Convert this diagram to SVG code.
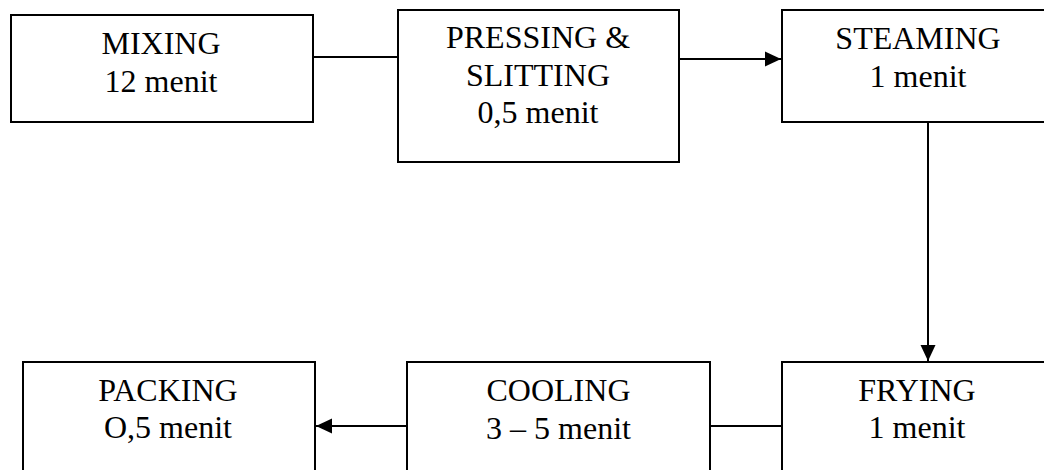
<svg xmlns="http://www.w3.org/2000/svg" width="1044" height="470" viewBox="0 0 1044 470">
<style>
.box{fill:#fff;stroke:#000;stroke-width:2}
text{font-family:'Liberation Serif','Times New Roman',Times,serif;font-size:32px;fill:#000;text-anchor:middle}
.c{stroke:#000;stroke-width:2;fill:none}
</style>
<defs>
<marker id="ah" markerUnits="userSpaceOnUse" markerWidth="17" markerHeight="16" refX="16" refY="7.5" orient="auto" overflow="visible">
<path d="M0,0 L16,7.5 L0,15 Z" fill="#000"/>
</marker>
</defs>
<rect width="1044" height="470" fill="#fff"/>
<g id="connectors">
<line class="c" x1="313" y1="57" x2="398" y2="57"/>
<line class="c" x1="679" y1="59" x2="781" y2="59" marker-end="url(#ah)"/>
<line class="c" x1="928" y1="122" x2="928" y2="361" marker-end="url(#ah)"/>
<line class="c" x1="710" y1="426" x2="782" y2="426"/>
<line class="c" x1="407" y1="426" x2="316" y2="426" marker-end="url(#ah)"/>
</g>
<g font-family="Liberation Serif, Times New Roman, serif" font-size="32" text-anchor="middle">
<g id="mixing">
<rect class="box" x="11" y="15" width="302" height="107"/>
<text x="161" y="54">MIXING</text>
<text x="161" y="92">12 menit</text>
</g>
<g id="pressing">
<rect class="box" x="398" y="10" width="281" height="152"/>
<text x="538" y="48">PRESSING &amp;</text>
<text x="538" y="86">SLITTING</text>
<text x="538" y="123">0,5 menit</text>
</g>
<g id="steaming">
<rect class="box" x="782" y="10" width="300" height="112"/>
<text x="918" y="49">STEAMING</text>
<text x="918" y="87">1 menit</text>
</g>
<g id="frying">
<rect class="box" x="782" y="362" width="300" height="200"/>
<text x="917" y="401">FRYING</text>
<text x="917" y="438">1 menit</text>
</g>
<g id="cooling">
<rect class="box" x="407" y="362" width="303" height="200"/>
<text x="558.5" y="401">COOLING</text>
<text x="558.5" y="439">3 – 5 menit</text>
</g>
<g id="packing">
<rect class="box" x="23" y="362" width="292" height="200"/>
<text x="168" y="401">PACKING</text>
<text x="168" y="438">O,5 menit</text>
</g>
</g>
</svg>
